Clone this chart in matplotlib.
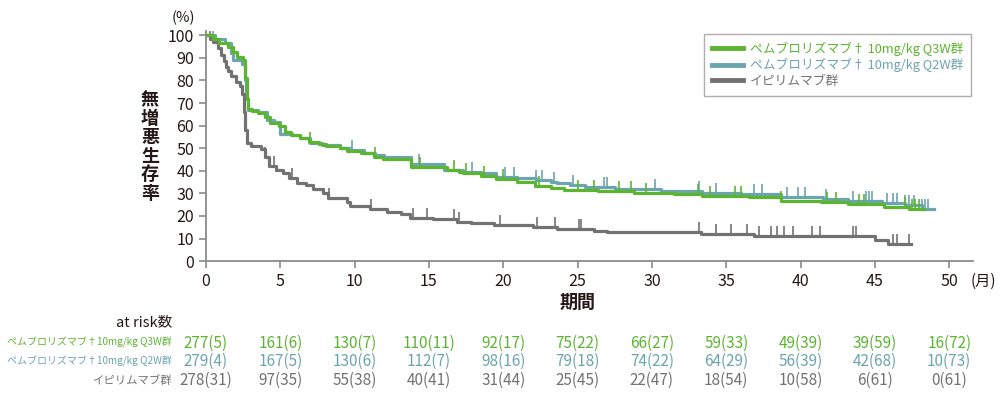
import numpy as np
import matplotlib
matplotlib.use("Agg")
import matplotlib.pyplot as plt
from matplotlib.path import Path
from matplotlib.transforms import blended_transform_factory

plt.rcParams['font.family'] = ['Noto Sans CJK JP', 'DejaVu Sans']

# step data (months, % PFS)
q3w_t = [0, 0.5, 0.9, 1.5, 1.8, 2.1, 2.5, 2.65, 2.75, 2.85, 3.1, 3.5, 4.0, 4.3, 4.9,
         5.3, 5.7, 6.3, 6.9, 7.6, 8.1, 9.0, 9.5, 10.4, 11.3, 11.9, 13.8, 16.2, 17.0,
         17.3, 18.5, 19.5, 20.9, 22.1, 23.2, 24.1, 26.4, 28.8, 31.5, 33.4, 36.5,
         38.7, 41.4, 43.2, 45.6, 47.3]
q3w_s = [100, 98.5, 96.5, 95, 92.5, 90.5, 89, 81, 72, 67.5, 66.5, 65.5, 64, 61, 60,
         57, 56, 54.7, 52.7, 51.7, 51, 50, 48.7, 47.7, 46.2, 45, 41.7, 40.3, 39.5,
         38.8, 37.7, 36.2, 35, 33.2, 32.5, 31.5, 31, 30.2, 29.7, 29, 28.4,
         26.8, 26.1, 25.1, 24, 23]
q3w_end = 48.3

q2w_t = [0, 0.6, 1.3, 1.7, 1.85, 2.4, 2.6, 2.7, 2.8, 3.5, 4.1, 4.6, 5.0, 5.8, 6.3,
         7.0, 7.8, 9.0, 9.7, 10.6, 11.4, 12.0, 13.8, 16.0, 17.3, 18.5, 19.5, 20.9,
         22.2, 23.2, 23.6, 24.5, 25.5, 27.5, 30.6, 33.4, 36.0, 38.7, 41.5, 43.2,
         45.5, 47.0, 48.2]
q2w_s = [100, 98.4, 96.5, 92, 89, 87.5, 80, 72, 67, 66, 62.5, 61.5, 56.5, 55.7, 54.5,
         52.3, 51.5, 50.3, 49, 48, 47, 46.3, 43, 40.5, 39.5, 38.8, 37.4, 36.9,
         35.7, 35, 34.4, 33.5, 32.8, 31.8, 31, 30.3, 29.8, 28.5, 27.6, 26.6,
         25.8, 25, 23]
q2w_end = 49.0

ipi_t = [0, 0.3, 0.5, 0.8, 1.0, 1.2, 1.35, 1.5, 1.7, 2.0, 2.3, 2.45, 2.55, 2.65, 2.75,
         3.0, 3.7, 4.0, 4.25, 4.7, 5.2, 5.6, 6.1, 6.7, 7.2, 7.9, 8.2, 9.5, 9.7, 11.0,
         12.2, 13.1, 13.7, 15.3, 16.9, 17.8, 19.4, 22.0, 23.6, 26.1, 27.0, 33.3,
         36.9, 45.0, 45.9]
ipi_s = [100, 98.5, 97, 94.5, 91.5, 88.5, 86, 84, 82, 79.5, 77.5, 74, 66, 58, 52.5,
         51, 49.5, 46, 42, 40.5, 39, 37, 34.7, 33.5, 32, 30.3, 28, 26, 24.2, 23,
         21.8, 21, 19.2, 18.5, 17.4, 16.7, 16, 15.2, 14.3, 13.3, 12.8, 11.8,
         11.1, 9.3, 7.4]
ipi_end = 47.4

# censor marks (months)
q3w_cens_t = [7.0, 11.4, 14.4, 16.7, 17.5, 18.7, 20.0, 22.4, 25.0, 26.1, 27.8, 28.6,
              29.6, 33.1, 33.9, 35.6, 36.0, 38.7, 41.8, 42.4, 43.9, 44.3, 47.0, 47.5,
              47.7, 48.0]
q2w_cens_t = [0.5, 9.8, 14.3, 17.9, 20.1, 20.7, 22.2, 22.6, 23.4, 24.7, 26.8, 27.0,
              30.2, 33.2, 34.3, 36.9, 37.4, 39.1, 39.8, 40.3, 41.7, 43.5, 44.4, 44.6,
              44.8, 45.8, 46.2, 46.5, 47.0, 47.3, 47.6, 48.2, 48.4, 48.6]
ipi_cens_t = [0.3, 4.0, 4.6, 5.8, 8.3, 11.1, 13.9, 14.9, 16.7, 17.0, 19.8, 22.3, 23.5,
              25.1, 25.25, 33.2, 34.3, 35.3, 36.4, 37.2, 38.0, 38.4, 38.9, 39.5, 40.8,
              41.3, 43.5, 43.7, 46.2, 46.5, 47.3]

# at risk table
risk_times = [0, 5, 10, 15, 20, 25, 30, 35, 40, 45, 50]
q3w_risk = [277, 161, 130, 110, 92, 75, 66, 59, 49, 39, 16]
q3w_cens = [5, 6, 7, 11, 17, 22, 27, 33, 39, 59, 72]
q2w_risk = [279, 167, 130, 112, 98, 79, 74, 64, 56, 42, 10]
q2w_cens = [4, 5, 6, 7, 16, 18, 22, 29, 39, 68, 73]
ipi_risk = [278, 97, 55, 40, 31, 25, 22, 18, 10, 6, 0]
ipi_cens = [31, 35, 38, 41, 44, 45, 47, 54, 58, 61, 61]

labels = ['ペムブロリズマブ† 10mg/kg Q3W群', 'ペムブロリズマブ† 10mg/kg Q2W群', 'イピリムマブ群']
row_labels = ['ペムブロリズマブ†10mg/kg Q3W群', 'ペムブロリズマブ†10mg/kg Q2W群', 'イピリムマブ群']
row_sizes = [7.2, 7.2, 8.2]
colors = ['#5cb531', '#6ca4b0', '#727272']
axis_col = '#8a8a8a'
text_col = '#231815'

fig = plt.figure(figsize=(10, 3.95), dpi=100)
ax = fig.add_axes([0.206, 0.339, 0.767, 0.583])

tick_marker = Path([(0, 0), (0, 1)])

groups = [(q2w_t, q2w_s, q2w_end, q2w_cens_t, colors[1], labels[1], 2),
          (q3w_t, q3w_s, q3w_end, q3w_cens_t, colors[0], labels[0], 3),
          (ipi_t, ipi_s, ipi_end, ipi_cens_t, colors[2], labels[2], 2)]
handles = {}
for t, s, end, ct, col, lab, z in groups:
    tt = np.array(t + [end])
    ss = np.array(s + [s[-1]])
    h, = ax.step(tt, ss, where='post', color=col, lw=2.3, zorder=z, label=lab)
    handles[lab] = h
    idx = np.searchsorted(t, ct, side='right') - 1
    cy = np.array(s)[idx]
    ax.plot(ct, cy, ls='none', marker=tick_marker, markersize=14,
            markeredgewidth=1.2, color=col, zorder=z)

ax.set_xlim(0, 51.6)
ax.set_ylim(0, 102)
ax.set_xticks(risk_times)
ax.set_yticks(range(0, 101, 10))
for sp in ['top', 'right']:
    ax.spines[sp].set_visible(False)
for sp in ['left', 'bottom']:
    ax.spines[sp].set_color(axis_col)
    ax.spines[sp].set_linewidth(1.3)
ax.tick_params(colors=axis_col, labelcolor=text_col, labelsize=11.5, length=5, width=1.2)

leg = ax.legend([handles[l] for l in labels], labels, loc='upper right',
                bbox_to_anchor=(1.006, 1.015), frameon=True, fancybox=False,
                fontsize=9.2, handlelength=2.4, handletextpad=0.6,
                borderpad=0.6, labelspacing=0.2)
leg.get_frame().set_edgecolor('#9a9a9a')
leg.get_frame().set_linewidth(1.0)
for txt, col in zip(leg.get_texts(), colors):
    txt.set_color(col)
for line in leg.get_lines():
    line.set_linewidth(3.5)

fig.text(0.183, 0.955, '(%)', ha='center', va='center', fontsize=10.5, color=text_col)
fig.text(0.150, 0.628, '\n'.join('無増悪生存率'), ha='center', va='center',
         fontsize=13, fontweight='bold', linespacing=0.98, color=text_col)
fig.text(0.983, 0.288, '(月)', ha='center', va='center', fontsize=11, color=text_col)
fig.text(0.578, 0.235, '期間', ha='center', va='center', fontsize=13,
         fontweight='bold', color=text_col)
fig.text(0.172, 0.185, 'at risk数', ha='right', va='center', fontsize=10.5, color=text_col)

trans = blended_transform_factory(ax.transData, fig.transFigure)
row_y = [0.132, 0.084, 0.036]
tables = [(q3w_risk, q3w_cens), (q2w_risk, q2w_cens), (ipi_risk, ipi_cens)]
for (risk, cens), y, col, lab, fs in zip(tables, row_y, colors, row_labels, row_sizes):
    fig.text(0.172, y, lab, ha='right', va='center', fontsize=fs, color=col)
    for x, n, c in zip(risk_times, risk, cens):
        ax.text(x, y, f'{n}({c})', transform=trans, ha='center', va='center',
                fontsize=11, color=col, clip_on=False)

fig.savefig('out.png', dpi=100)
